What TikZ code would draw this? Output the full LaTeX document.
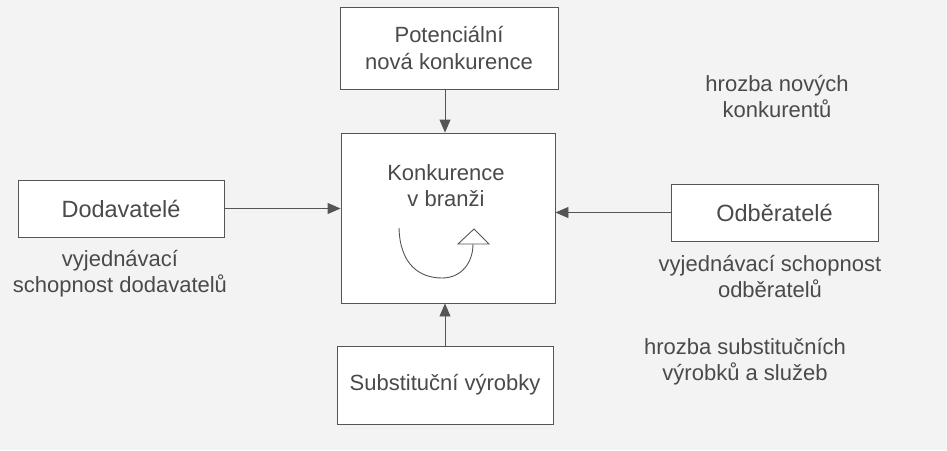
\documentclass[tikz,border=0pt]{standalone}
\usepackage{fontspec}
\setmainfont{Liberation Sans}
\usetikzlibrary{arrows.meta}
\definecolor{textgray}{HTML}{4A4A4A}
\definecolor{linegray}{HTML}{555555}
\definecolor{paper}{HTML}{F3F3F3}
\begin{document}
\begin{tikzpicture}[x=1pt,y=-1pt,
  box/.style={draw=linegray, fill=white, line width=0.9pt, inner sep=0pt, align=center, text=textgray, font=\fontsize{22}{27}\selectfont},
  bigbox/.style={box, font=\fontsize{23.5}{28}\selectfont},
  lbl/.style={align=center, text=textgray, font=\fontsize{22}{26}\selectfont, inner sep=0pt},
  conn/.style={draw=linegray, line width=0.9pt, -{Triangle[length=13pt,width=11pt]}},
  swirl/.style={draw=linegray, line width=0.9pt}]
\useasboundingbox (0,0) rectangle (947,450);
\fill[paper] (0,0) rectangle (947,450);

\node[box, minimum width=218pt, minimum height=82pt] (pot) at (449,48) {Potenciální\\nová konkurence};
\node[box, minimum width=214pt, minimum height=170pt] (main) at (448,218) {};
\node[lbl] (maintext) at (446,186) {Konkurence\\v branži};
\node[box, minimum width=216pt, minimum height=78pt] (sub) at (445,385) {Substituční výrobky};
\node[bigbox, minimum width=206pt, minimum height=57pt] (dod) at (121,208.5) {Dodavatelé};
\node[bigbox, minimum width=207pt, minimum height=57pt] (odb) at (774.5,212.5) {Odběratelé};

\draw[conn] (pot.south -| 445,0) -- (445,0 |- main.north);
\draw[conn] (dod.east) -- (dod.east -| main.west);
\draw[conn] (odb.west) -- (odb.west -| main.east);
\draw[conn] (sub.north -| 445,0) -- (445,0 |- main.south);

\node[lbl] (l1) at (777,97) {hrozba nových\\konkurentů};
\node[lbl] (l2) at (120,274) {vyjednávací\\schopnost dodavatelů};
\node[lbl] (l3) at (770,277) {vyjednávací schopnost\\odběratelů};
\node[lbl] (l4) at (745,362) {hrozba substitučních\\výrobků a služeb};

\coordinate (c1) at (399,228);
\coordinate (c2) at (442,278);
\coordinate (c3) at (473,244);
\draw[swirl] (c1) .. controls (400,265) and (420,278) .. (c2) .. controls (462,278) and (473,262) .. (c3);
\draw[swirl, fill=white, line join=miter] (458,244) -- (474,229) -- (489,244) -- cycle;
\end{tikzpicture}
\end{document}
